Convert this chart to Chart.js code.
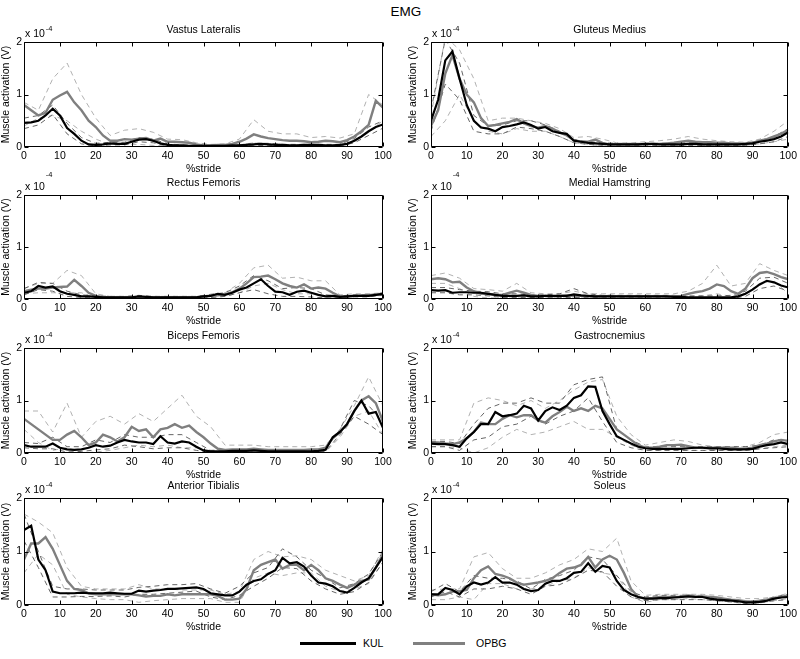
<!DOCTYPE html>
<html>
<head>
<meta charset="utf-8">
<title>EMG</title>
<script src="https://cdn.jsdelivr.net/npm/chart.js@4"></script>
<style>
  body { margin: 0; background: #fff; }
  #wrap { position: relative; width: 800px; height: 659px; font-family: "Liberation Sans", Arial, sans-serif; color: #000; }
  #wrap canvas { position: absolute; }
  #title { position: absolute; left: 0; top: 4px; width: 812px; text-align: center; font-size: 13.5px; line-height: 16px; }
  .swatch { position: absolute; top: 642px; height: 2.5px; }
  .legtext { position: absolute; top: 637px; font-size: 10.5px; line-height: 12px; }
</style>
</head>
<body>
<div id="wrap">
  <div id="title">EMG</div>
  <div class="swatch" style="left:300px;width:56px;background:#000"></div>
  <div class="legtext" style="left:363px">KUL</div>
  <div class="swatch" style="left:413px;width:52px;background:#808080"></div>
  <div class="legtext" style="left:476px">OPBG</div>
</div>
<script>
// values in units of 1e-4 V, mean curves every 2 %stride, +/- SD curves every 4 %stride
var stride = [0,2,4,6,8,10,12,14,16,18,20,22,24,26,28,30,32,34,36,38,40,42,44,46,48,50,
  52,54,56,58,60,62,64,66,68,70,72,74,76,78,80,82,84,86,88,90,92,94,96,98,100];
var strideSd = [0,4,8,12,16,20,24,28,32,36,40,44,48,52,56,60,64,68,72,76,80,84,88,92,96,100];

// Vastus Lateralis
var vlKul = [0.46,0.47,0.50,0.60,0.73,0.60,0.36,0.25,0.12,0.05, 0.04,0.05,0.07,0.06,0.06,0.10,0.14,0.15,0.12,0.07,
  0.04,0.03,0.03,0.02,0.02,0.02,0.02,0.02,0.02,0.03, 0.03,0.04,0.05,0.06,0.05,0.04,0.04,0.03,0.03,0.04,
  0.04,0.04,0.03,0.03,0.04,0.06,0.12,0.20,0.30,0.38, 0.43];
var vlOpbg = [0.80,0.70,0.60,0.65,0.90,0.98,1.05,0.85,0.70,0.50, 0.38,0.22,0.12,0.12,0.15,0.14,0.16,0.17,0.12,0.16,
  0.10,0.10,0.09,0.08,0.05,0.03,0.03,0.04,0.04,0.06, 0.10,0.16,0.24,0.20,0.17,0.15,0.13,0.12,0.12,0.11,
  0.09,0.10,0.12,0.11,0.09,0.13,0.20,0.30,0.42,0.88, 0.75];
var vlKulHi = [0.55,0.60,0.80,0.45,0.18,0.07,0.09,0.09,0.18,0.15, 0.06,0.04,0.03,0.03,0.03,0.04,0.07,0.07,0.05,0.05, 0.05,0.05,0.05,0.16,0.38,0.50];
var vlKulLo = [0.35,0.42,0.62,0.25,0.06,0.02,0.04,0.04,0.10,0.08, 0.02,0.01,0.01,0.01,0.01,0.02,0.03,0.03,0.02,0.02, 0.02,0.02,0.02,0.08,0.22,0.36];
var vlOpbgHi = [0.85,0.70,1.30,1.60,1.00,0.55,0.22,0.32,0.35,0.28, 0.15,0.14,0.08,0.05,0.06,0.15,0.52,0.30,0.25,0.25, 0.18,0.20,0.17,0.25,1.00,0.80];
var vlOpbgLo = [0.40,0.55,0.60,0.50,0.30,0.15,0.05,0.05,0.05,0.03, 0.03,0.02,0.01,0.01,0.02,0.04,0.08,0.06,0.05,0.04, 0.03,0.03,0.03,0.10,0.30,0.50];

// Gluteus Medius
var gmKul = [0.50,0.90,1.65,1.82,1.30,0.80,0.50,0.37,0.35,0.30, 0.38,0.40,0.43,0.47,0.42,0.35,0.38,0.30,0.27,0.25,
  0.12,0.10,0.08,0.07,0.06,0.05,0.05,0.05,0.05,0.05, 0.06,0.06,0.05,0.05,0.05,0.05,0.06,0.06,0.05,0.05,
  0.05,0.05,0.05,0.05,0.06,0.07,0.10,0.12,0.15,0.20, 0.28];
var gmOpbg = [0.40,0.70,1.40,1.75,1.30,1.00,0.85,0.55,0.40,0.42, 0.45,0.48,0.53,0.45,0.40,0.37,0.40,0.35,0.28,0.22,
  0.13,0.10,0.10,0.14,0.08,0.05,0.05,0.05,0.05,0.05, 0.05,0.06,0.06,0.07,0.08,0.10,0.12,0.10,0.09,0.09,
  0.08,0.08,0.07,0.07,0.06,0.08,0.12,0.15,0.20,0.25, 0.33];
var gmKulHi = [0.70,2.05,1.60,0.60,0.40,0.42,0.50,0.50,0.42,0.30, 0.14,0.10,0.08,0.07,0.07,0.07,0.07,0.07,0.08,0.07, 0.07,0.07,0.07,0.12,0.20,0.35];
var gmKulLo = [0.30,1.20,0.90,0.30,0.25,0.25,0.38,0.35,0.30,0.20, 0.08,0.05,0.03,0.03,0.03,0.03,0.03,0.03,0.03,0.03, 0.03,0.03,0.03,0.06,0.10,0.20];
var gmOpbgHi = [0.60,2.10,1.85,1.30,0.50,0.55,0.55,0.50,0.45,0.35, 0.18,0.20,0.15,0.08,0.08,0.10,0.12,0.15,0.20,0.15, 0.12,0.10,0.09,0.15,0.30,0.50];
var gmOpbgLo = [0.20,0.50,1.00,0.50,0.30,0.25,0.35,0.30,0.30,0.20, 0.08,0.05,0.02,0.02,0.02,0.02,0.02,0.03,0.04,0.03, 0.03,0.03,0.03,0.06,0.10,0.15];

// Rectus Femoris
var rfKul = [0.12,0.15,0.25,0.22,0.24,0.15,0.10,0.08,0.05,0.05, 0.04,0.03,0.03,0.03,0.03,0.03,0.05,0.04,0.03,0.03,
  0.03,0.03,0.03,0.03,0.03,0.05,0.06,0.10,0.08,0.12, 0.18,0.22,0.30,0.38,0.25,0.14,0.13,0.08,0.14,0.16,
  0.12,0.08,0.05,0.06,0.04,0.05,0.06,0.06,0.06,0.08, 0.10];
var rfOpbg = [0.15,0.18,0.20,0.20,0.22,0.23,0.24,0.37,0.25,0.12, 0.06,0.04,0.03,0.03,0.03,0.03,0.03,0.03,0.03,0.03,
  0.03,0.03,0.03,0.03,0.03,0.05,0.06,0.07,0.09,0.13, 0.20,0.30,0.42,0.43,0.45,0.38,0.30,0.25,0.22,0.28,
  0.20,0.22,0.20,0.12,0.05,0.05,0.06,0.07,0.08,0.08, 0.10];
var rfKulHi = [0.20,0.32,0.30,0.15,0.08,0.06,0.05,0.05,0.07,0.05, 0.05,0.05,0.05,0.09,0.12,0.25,0.45,0.35,0.20,0.22, 0.20,0.08,0.06,0.08,0.08,0.12];
var rfKulLo = [0.08,0.18,0.15,0.05,0.03,0.02,0.01,0.01,0.02,0.01, 0.01,0.01,0.01,0.03,0.05,0.12,0.18,0.10,0.05,0.05, 0.04,0.02,0.02,0.04,0.04,0.08];
var rfOpbgHi = [0.20,0.30,0.30,0.55,0.45,0.10,0.05,0.05,0.05,0.05, 0.05,0.05,0.05,0.08,0.12,0.30,0.60,0.65,0.40,0.42, 0.35,0.35,0.08,0.10,0.10,0.12];
var rfOpbgLo = [0.10,0.12,0.12,0.12,0.12,0.02,0.01,0.01,0.01,0.01, 0.01,0.01,0.01,0.03,0.05,0.12,0.25,0.30,0.18,0.10, 0.10,0.05,0.02,0.05,0.05,0.07];

// Medial Hamstring
var mhKul = [0.17,0.16,0.17,0.12,0.13,0.13,0.12,0.12,0.10,0.08, 0.06,0.06,0.06,0.07,0.05,0.05,0.06,0.06,0.06,0.06,
  0.09,0.07,0.06,0.05,0.05,0.05,0.05,0.05,0.05,0.05, 0.05,0.05,0.05,0.05,0.04,0.04,0.03,0.03,0.03,0.03,
  0.03,0.03,0.03,0.05,0.10,0.18,0.28,0.35,0.32,0.26, 0.22];
var mhOpbg = [0.38,0.40,0.38,0.32,0.33,0.22,0.15,0.10,0.10,0.08, 0.08,0.12,0.16,0.12,0.08,0.06,0.06,0.05,0.06,0.07,
  0.06,0.06,0.05,0.05,0.05,0.06,0.05,0.05,0.05,0.05, 0.05,0.05,0.05,0.05,0.05,0.06,0.10,0.13,0.15,0.20,
  0.28,0.25,0.15,0.10,0.20,0.40,0.50,0.52,0.48,0.42, 0.38];
var mhKulHi = [0.22,0.22,0.18,0.15,0.14,0.10,0.10,0.08,0.08,0.10, 0.20,0.10,0.07,0.07,0.07,0.07,0.07,0.07,0.06,0.06, 0.06,0.07,0.15,0.40,0.42,0.30];
var mhKulLo = [0.12,0.12,0.08,0.08,0.06,0.03,0.03,0.03,0.03,0.03, 0.03,0.03,0.03,0.03,0.03,0.03,0.03,0.02,0.02,0.02, 0.01,0.01,0.05,0.20,0.25,0.15];
var mhOpbgHi = [0.45,0.50,0.40,0.20,0.18,0.15,0.30,0.12,0.10,0.10, 0.15,0.10,0.10,0.10,0.10,0.10,0.10,0.10,0.15,0.30, 0.65,0.25,0.30,0.68,0.55,0.45];
var mhOpbgLo = [0.30,0.30,0.20,0.05,0.02,0.02,0.02,0.02,0.02,0.02, 0.02,0.02,0.02,0.02,0.02,0.02,0.02,0.02,0.04,0.06, 0.10,0.05,0.10,0.30,0.35,0.10];

// Biceps Femoris
var bfKul = [0.15,0.12,0.12,0.12,0.18,0.10,0.07,0.06,0.07,0.10, 0.15,0.12,0.14,0.20,0.25,0.22,0.20,0.20,0.17,0.32,
  0.20,0.18,0.22,0.20,0.12,0.05,0.03,0.03,0.03,0.04, 0.04,0.04,0.05,0.04,0.03,0.03,0.03,0.03,0.03,0.03,
  0.03,0.04,0.06,0.30,0.40,0.55,0.80,1.00,0.75,0.78, 0.48];
var bfOpbg = [0.65,0.55,0.45,0.35,0.25,0.25,0.35,0.42,0.30,0.15, 0.20,0.35,0.30,0.22,0.30,0.50,0.42,0.45,0.30,0.45,
  0.48,0.55,0.48,0.52,0.40,0.30,0.18,0.08,0.06,0.07, 0.07,0.07,0.08,0.07,0.06,0.06,0.06,0.06,0.06,0.06,
  0.07,0.07,0.10,0.28,0.40,0.55,0.80,1.00,1.08,0.95, 0.60];
var bfKulHi = [0.20,0.18,0.30,0.12,0.12,0.25,0.20,0.35,0.30,0.30, 0.35,0.35,0.20,0.05,0.06,0.06,0.07,0.06,0.06,0.06, 0.06,0.08,0.45,1.00,0.90,0.60];
var bfKulLo = [0.10,0.08,0.08,0.02,0.03,0.06,0.08,0.15,0.12,0.08, 0.10,0.10,0.05,0.01,0.01,0.01,0.02,0.01,0.01,0.01, 0.01,0.03,0.35,0.70,0.55,0.35];
var bfOpbgHi = [0.80,0.80,0.40,0.95,0.30,0.60,0.70,0.55,0.75,0.60, 0.85,1.10,0.70,0.50,0.15,0.15,0.15,0.12,0.12,0.12, 0.12,0.15,0.45,0.90,1.45,0.90];
var bfOpbgLo = [0.45,0.20,0.05,0.10,0.00,0.02,0.05,0.10,0.15,0.12, 0.15,0.10,0.10,0.02,0.00,0.02,0.02,0.02,0.02,0.02, 0.02,0.02,0.30,0.70,0.80,0.35];

// Gastrocnemius
var gaKul = [0.18,0.17,0.17,0.15,0.12,0.28,0.40,0.55,0.55,0.78, 0.70,0.72,0.75,0.90,0.85,0.62,0.80,0.87,0.82,0.90,
  1.05,1.10,1.27,1.26,0.80,0.55,0.32,0.25,0.18,0.12, 0.09,0.08,0.08,0.08,0.08,0.08,0.09,0.10,0.10,0.09,
  0.09,0.08,0.07,0.07,0.07,0.08,0.12,0.15,0.17,0.20, 0.17];
var gaOpbg = [0.20,0.20,0.18,0.17,0.20,0.28,0.40,0.58,0.55,0.55, 0.65,0.72,0.68,0.72,0.72,0.62,0.58,0.70,0.78,0.88,
  0.80,0.85,0.80,0.90,0.85,0.65,0.45,0.35,0.25,0.15, 0.10,0.10,0.12,0.15,0.15,0.16,0.13,0.10,0.10,0.10,
  0.10,0.10,0.10,0.08,0.08,0.10,0.15,0.18,0.22,0.25, 0.23];
var gaKulHi = [0.22,0.22,0.18,0.55,0.85,0.95,0.95,1.05,0.95,0.95, 1.30,1.40,1.45,0.45,0.25,0.12,0.12,0.12,0.12,0.12, 0.12,0.12,0.12,0.15,0.25,0.25];
var gaKulLo = [0.12,0.12,0.05,0.25,0.30,0.50,0.55,0.70,0.55,0.70, 0.80,1.05,0.60,0.20,0.10,0.05,0.05,0.05,0.05,0.05, 0.05,0.05,0.05,0.08,0.10,0.12];
var gaOpbgHi = [0.25,0.25,0.25,0.95,1.05,1.00,0.90,1.00,0.85,1.00, 1.20,1.35,1.40,0.70,0.35,0.15,0.20,0.25,0.22,0.15, 0.12,0.12,0.12,0.20,0.35,0.40];
var gaOpbgLo = [0.12,0.12,0.10,0.00,0.10,0.30,0.45,0.35,0.40,0.50, 0.60,0.45,0.45,0.30,0.15,0.05,0.05,0.06,0.05,0.05, 0.05,0.05,0.05,0.08,0.12,0.15];

// Anterior Tibialis
var atKul = [1.40,1.48,0.85,0.65,0.25,0.22,0.22,0.22,0.23,0.22, 0.22,0.22,0.23,0.22,0.21,0.21,0.27,0.25,0.27,0.28,
  0.30,0.30,0.31,0.32,0.33,0.30,0.22,0.20,0.18,0.18, 0.25,0.38,0.45,0.48,0.58,0.65,0.88,0.78,0.80,0.72,
  0.55,0.42,0.40,0.35,0.26,0.23,0.32,0.42,0.50,0.70, 0.90];
var atOpbg = [0.85,1.15,1.15,1.27,1.05,0.75,0.45,0.30,0.28,0.22, 0.20,0.20,0.20,0.20,0.20,0.20,0.18,0.16,0.17,0.17,
  0.20,0.18,0.20,0.20,0.20,0.20,0.20,0.17,0.10,0.10, 0.12,0.30,0.65,0.75,0.80,0.85,0.68,0.75,0.75,0.65,
  0.75,0.65,0.50,0.45,0.38,0.32,0.38,0.45,0.48,0.70, 0.95];
var atKulHi = [1.70,1.00,0.35,0.30,0.30,0.28,0.28,0.28,0.33,0.35, 0.38,0.38,0.40,0.30,0.22,0.35,0.60,0.70,1.05,0.90, 0.65,0.50,0.32,0.40,0.58,1.00];
var atKulLo = [1.20,0.70,0.15,0.15,0.16,0.16,0.17,0.15,0.20,0.20, 0.22,0.24,0.26,0.15,0.10,0.18,0.35,0.50,0.70,0.68, 0.45,0.30,0.20,0.25,0.42,0.80];
var atOpbgHi = [1.70,1.55,1.35,0.70,0.35,0.30,0.30,0.30,0.38,0.30, 0.30,0.28,0.28,0.28,0.20,0.25,0.85,1.00,0.90,0.92, 0.85,0.65,0.55,0.45,0.55,1.05];
var atOpbgLo = [0.60,0.95,0.75,0.20,0.15,0.12,0.10,0.10,0.05,0.08, 0.10,0.12,0.12,0.12,0.05,0.05,0.50,0.60,0.55,0.60, 0.60,0.35,0.25,0.30,0.40,0.80];

// Soleus
var soKul = [0.20,0.20,0.32,0.28,0.20,0.35,0.42,0.38,0.42,0.52, 0.42,0.42,0.38,0.30,0.26,0.28,0.40,0.45,0.45,0.50,
  0.60,0.62,0.78,0.62,0.73,0.70,0.45,0.28,0.20,0.15, 0.12,0.12,0.13,0.13,0.14,0.15,0.16,0.15,0.15,0.12,
  0.10,0.09,0.08,0.07,0.05,0.05,0.06,0.08,0.12,0.14, 0.15];
var soOpbg = [0.20,0.18,0.20,0.25,0.26,0.28,0.50,0.65,0.72,0.58, 0.55,0.50,0.42,0.38,0.40,0.42,0.45,0.50,0.60,0.68,
  0.70,0.75,0.90,0.70,0.85,0.92,0.85,0.60,0.30,0.15, 0.12,0.13,0.15,0.15,0.15,0.15,0.18,0.16,0.16,0.15,
  0.14,0.12,0.10,0.09,0.07,0.06,0.08,0.10,0.12,0.15, 0.18];
var soKulHi = [0.25,0.40,0.25,0.55,0.50,0.50,0.45,0.30,0.48,0.55, 0.65,0.90,0.85,0.55,0.25,0.15,0.18,0.18,0.18,0.18, 0.12,0.10,0.07,0.08,0.15,0.20];
var soKulLo = [0.15,0.25,0.15,0.30,0.30,0.35,0.30,0.20,0.35,0.38, 0.50,0.65,0.62,0.35,0.15,0.08,0.10,0.10,0.10,0.10, 0.08,0.06,0.03,0.04,0.08,0.10];
var soOpbgHi = [0.28,0.30,0.30,0.90,0.98,0.68,0.50,0.50,0.60,0.75, 0.85,1.05,1.00,1.25,0.45,0.18,0.20,0.20,0.20,0.20, 0.18,0.15,0.12,0.12,0.15,0.22];
var soOpbgLo = [0.10,0.10,0.15,0.10,0.40,0.40,0.30,0.30,0.35,0.45, 0.50,0.70,0.60,0.55,0.15,0.05,0.10,0.10,0.12,0.10, 0.08,0.05,0.03,0.04,0.08,0.12];

var panels = [
  { title: "Vastus Lateralis", kul: vlKul, opbg: vlOpbg, kulHi: vlKulHi, kulLo: vlKulLo, opbgHi: vlOpbgHi, opbgLo: vlOpbgLo },
  { title: "Gluteus Medius", kul: gmKul, opbg: gmOpbg, kulHi: gmKulHi, kulLo: gmKulLo, opbgHi: gmOpbgHi, opbgLo: gmOpbgLo },
  { title: "Rectus Femoris", kul: rfKul, opbg: rfOpbg, kulHi: rfKulHi, kulLo: rfKulLo, opbgHi: rfOpbgHi, opbgLo: rfOpbgLo },
  { title: "Medial Hamstring", kul: mhKul, opbg: mhOpbg, kulHi: mhKulHi, kulLo: mhKulLo, opbgHi: mhOpbgHi, opbgLo: mhOpbgLo },
  { title: "Biceps Femoris", kul: bfKul, opbg: bfOpbg, kulHi: bfKulHi, kulLo: bfKulLo, opbgHi: bfOpbgHi, opbgLo: bfOpbgLo },
  { title: "Gastrocnemius", kul: gaKul, opbg: gaOpbg, kulHi: gaKulHi, kulLo: gaKulLo, opbgHi: gaOpbgHi, opbgLo: gaOpbgLo },
  { title: "Anterior Tibialis", kul: atKul, opbg: atOpbg, kulHi: atKulHi, kulLo: atKulLo, opbgHi: atOpbgHi, opbgLo: atOpbgLo },
  { title: "Soleus", kul: soKul, opbg: soOpbg, kulHi: soKulHi, kulLo: soKulLo, opbgHi: soOpbgHi, opbgLo: soOpbgLo }
];

// page layout of the plot boxes
var rowTop = [42, 195, 348, 498];
var rowBottom = [147, 299, 453, 605];
var colLeft = [24, 431];
var colRight = [383, 792];

var FONT = '"Liberation Sans", Arial, sans-serif';
Chart.defaults.font.family = FONT;
Chart.defaults.font.size = 10.5;
Chart.defaults.color = "#000";

function line(xs, ys, color, width, dash) {
    return {
        data: xs.map(function (x, i) { return { x: x, y: ys[i] }; }),
        borderColor: color,
        borderWidth: width,
        borderDash: dash,
        pointRadius: 0,
        fill: false,
        tension: 0,
    };
}

// matlab-like box, inner ticks and labels
var matlabFrame = {
    id: "matlabFrame",
    afterDraw: function (chart, args, o) {
        var ctx = chart.ctx;
        var a = chart.chartArea;
        var sx = chart.scales.x, sy = chart.scales.y;
        var l = Math.round(a.left) + 0.5, r = Math.round(a.right) - 0.5;
        var t = Math.round(a.top) + 0.5, b = Math.round(a.bottom) - 0.5;
        ctx.save();
        ctx.strokeStyle = "#000";
        ctx.lineWidth = 1;
        ctx.beginPath();
        ctx.rect(l, t, r - l, b - t);
        sx.ticks.forEach(function (tk) {
            var px = Math.round(sx.getPixelForValue(tk.value)) + 0.5;
            ctx.moveTo(px, b); ctx.lineTo(px, b - 4);
            ctx.moveTo(px, t); ctx.lineTo(px, t + 4);
        });
        sy.ticks.forEach(function (tk) {
            var py = Math.round(sy.getPixelForValue(tk.value)) + 0.5;
            ctx.moveTo(l, py); ctx.lineTo(l + 4, py);
            ctx.moveTo(r, py); ctx.lineTo(r - 4, py);
        });
        ctx.stroke();

        var cx = (a.left + a.right) / 2;
        ctx.fillStyle = "#000";
        ctx.font = "10.5px " + FONT;
        ctx.textBaseline = "middle";
        ctx.textAlign = "center";
        ctx.fillText(o.title, cx, a.top - 11.5);
        ctx.fillText("%stride", cx, a.bottom + 22);

        ctx.textAlign = "left";
        ctx.fillText("x 10", a.left + 1, a.top - 8);
        var w = ctx.measureText("x 10").width;
        ctx.font = "7.5px " + FONT;
        ctx.fillText("-4", a.left + 2 + w, a.top - (o.highExp ? 20 : 13));

        ctx.font = "10.5px " + FONT;
        ctx.translate(a.left - 18, (a.top + a.bottom) / 2);
        ctx.rotate(-Math.PI / 2);
        ctx.textAlign = "center";
        ctx.fillText("Muscle activation (V)", 0, 0);
        ctx.restore();
    },
};

var wrap = document.getElementById("wrap");
var charts = [];

panels.forEach(function (p, k) {
    var row = Math.floor(k / 2), col = k % 2;
    var canvas = document.createElement("canvas");
    var cLeft = col * 400;
    var cTop = rowTop[row] - 30;
    canvas.width = 400;
    canvas.height = rowBottom[row] - rowTop[row] + 60;
    canvas.style.left = cLeft + "px";
    canvas.style.top = cTop + "px";
    wrap.appendChild(canvas);

    var yWidth = colLeft[col] - cLeft;
    var padRight = cLeft + 400 - colRight[col];

    charts.push(new Chart(canvas, {
        type: "line",
        data: {
            datasets: [
                line(stride, p.kul, "#000000", 2.2, []),
                line(stride, p.opbg, "#7f7f7f", 2.4, []),
                line(strideSd, p.kulHi, "#555555", 0.9, [5, 4]),
                line(strideSd, p.kulLo, "#555555", 0.9, [5, 4]),
                line(strideSd, p.opbgHi, "#a8a8a8", 0.9, [5, 4]),
                line(strideSd, p.opbgLo, "#a8a8a8", 0.9, [5, 4]),
            ],
        },
        options: {
            responsive: false,
            animation: false,
            events: [],
            layout: {
                padding: { top: 30, bottom: 0, left: 0, right: padRight },
            },
            scales: {
                x: {
                    type: "linear",
                    min: 0,
                    max: 100,
                    ticks: { stepSize: 10, padding: 3, maxRotation: 0, autoSkip: false, font: { size: 10.5 } },
                    grid: { display: false, drawTicks: false },
                    border: { display: false },
                    afterFit: function (s) { s.height = 30; },
                },
                y: {
                    min: 0,
                    max: 2,
                    ticks: { stepSize: 1, padding: 2, font: { size: 10.5 } },
                    grid: { display: false, drawTicks: false },
                    border: { display: false },
                    afterFit: function (s) { s.width = yWidth; },
                },
            },
            plugins: {
                legend: { display: false },
                tooltip: { enabled: false },
                matlabFrame: { title: p.title, highExp: row === 1 },
            },
        },
        plugins: [matlabFrame],
    }));
});
</script>
</body>
</html>
